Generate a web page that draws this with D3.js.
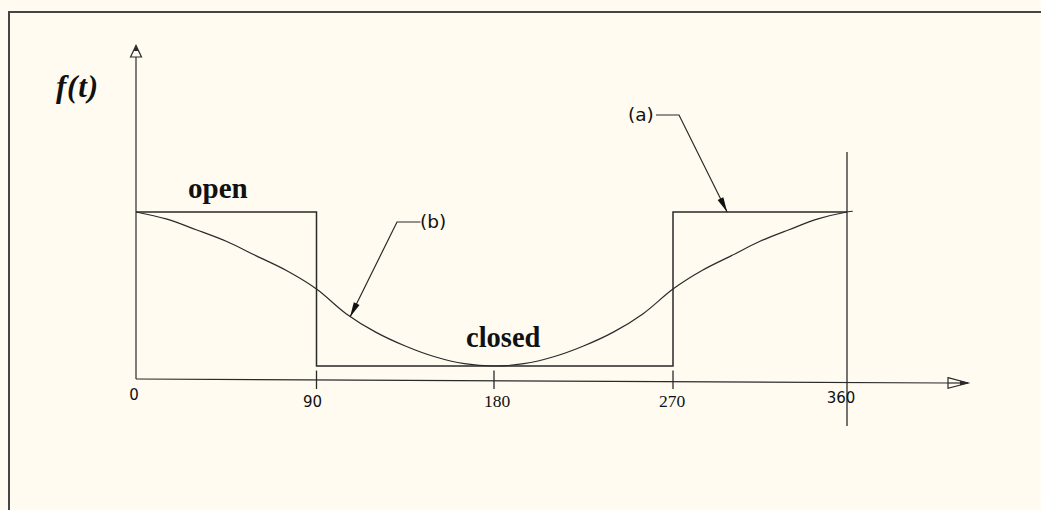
<!DOCTYPE html>
<html>
<head>
<meta charset="utf-8">
<script src="https://cdn.jsdelivr.net/npm/d3@7"></script>
<style>
  html, body { margin: 0; padding: 0; background: #fffbf0; }
  svg { display: block; }
</style>
</head>
<body>
<svg id="chart" width="1041" height="510"></svg>
<script>
// Phase angle in degrees and the two valve-opening functions f(t)
const tickAngles = [0, 90, 180, 270, 360];
const tickLabels = ["0", "90", "180", "270", "360"];

// (a) ideal on/off switching: open (1) for 0-90 and 270-360, closed (0) between
const squareAngles = [0, 90, 90, 270, 270, 360];
const squareValues = [1, 1, 0, 0, 1, 1];

// (b) smooth opening profile
const smoothAngles = [0, 15, 30, 45, 60, 75, 90, 105, 120, 135, 150, 165, 180,
                      195, 210, 225, 240, 255, 270, 285, 300, 315, 330, 345, 360, 363];
const smoothValues = [1.0, 0.955, 0.885, 0.81, 0.715, 0.62, 0.5, 0.34, 0.22, 0.13, 0.06, 0.015, 0.0,
                      0.015, 0.06, 0.13, 0.22, 0.34, 0.5, 0.62, 0.715, 0.81, 0.885, 0.955, 1.0, 1.005];

// Callout labels: which curve point each one points at
const calloutNames = ["(a)", "(b)"];
const calloutAngles = [298, 107];
const calloutValues = [1.0, 0.318];

const svg = d3.select("#chart");
const ink = "#2a2a2a";

// Scales
const x = d3.scaleLinear().domain(tickAngles).range([136, 316.5, 494, 673, 847]);
const y = d3.scaleLinear().domain([0, 1]).range([366, 212]);

// Outer frame (top and left edges)
svg.append("path")
  .attr("d", "M9,510 L9,12 L1041,12")
  .attr("fill", "none").attr("stroke", "#454545").attr("stroke-width", 2);

// Axes
const axisY0 = 379, axisY1 = 383;
const xEnd = 948;
svg.append("line")
  .attr("x1", x(0)).attr("y1", axisY0).attr("x2", xEnd).attr("y2", axisY1)
  .attr("stroke", ink).attr("stroke-width", 1.2);
svg.append("line")
  .attr("x1", x(0)).attr("y1", axisY0).attr("x2", x(0)).attr("y2", 57)
  .attr("stroke", ink).attr("stroke-width", 1.2);

// Arrow heads: open triangle with a solid point
svg.append("path")
  .attr("d", `M${x(0) - 5.5},57 L${x(0)},45.5 L${x(0) + 5.5},57 Z`)
  .attr("fill", "#fffbf0").attr("stroke", ink).attr("stroke-width", 1.2);
svg.append("path")
  .attr("d", `M${x(0) - 2.4},51 L${x(0)},45.5 L${x(0) + 2.4},51 Z`)
  .attr("fill", ink);
svg.append("path")
  .attr("d", `M${xEnd},${axisY1 - 5.3} L${xEnd + 20},${axisY1} L${xEnd},${axisY1 + 5.3} Z`)
  .attr("fill", "#fffbf0").attr("stroke", ink).attr("stroke-width", 1.2);
svg.append("line")
  .attr("x1", xEnd).attr("y1", axisY1).attr("x2", xEnd + 20).attr("y2", axisY1)
  .attr("stroke", ink).attr("stroke-width", 1.2);
svg.append("path")
  .attr("d", `M${xEnd + 12},${axisY1 - 2.2} L${xEnd + 21},${axisY1} L${xEnd + 12},${axisY1 + 2.2} Z`)
  .attr("fill", ink);

// Tick marks crossing the axis; the last one is a full-height reference line
tickAngles.slice(1).forEach(a => {
  const full = a === 360;
  svg.append("line")
    .attr("x1", x(a)).attr("x2", x(a))
    .attr("y1", full ? 152 : 370.5).attr("y2", full ? 426 : 389)
    .attr("stroke", ink).attr("stroke-width", 1.3);
});

// Tick labels (mixed lettering as drawn)
const tickStyle = {
  "0":   { font: "DejaVu Sans, Verdana, sans-serif", size: 15, dy: 400, dx: -2 },
  "90":  { font: "DejaVu Sans, Verdana, sans-serif", size: 15, dy: 407, dx: -4 },
  "180": { font: "Liberation Serif, Times New Roman, serif", size: 17.5, dy: 407, dx: 3 },
  "270": { font: "Liberation Serif, Times New Roman, serif", size: 17.5, dy: 407, dx: -1 },
  "360": { font: "DejaVu Sans, Verdana, sans-serif", size: 15, dy: 402.5, dx: -6 }
};
tickAngles.forEach((a, i) => {
  const s = tickStyle[tickLabels[i]];
  svg.append("text")
    .attr("x", x(a) + s.dx).attr("y", s.dy)
    .attr("text-anchor", "middle")
    .attr("font-family", s.font).attr("font-size", s.size)
    .attr("fill", "#111")
    .text(tickLabels[i]);
});

// Curve (a): square wave
const lineGen = d3.line().x(d => x(d[0])).y(d => y(d[1]));
svg.append("path")
  .datum(squareAngles.map((a, i) => [a, squareValues[i]]))
  .attr("d", lineGen)
  .attr("fill", "none").attr("stroke", ink).attr("stroke-width", 1.5);

// Curve (b): smooth profile
svg.append("path")
  .datum(smoothAngles.map((a, i) => [a, smoothValues[i]]))
  .attr("d", lineGen.curve(d3.curveCatmullRom))
  .attr("fill", "none").attr("stroke", ink).attr("stroke-width", 1.2);

// Labels
svg.append("text")
  .attr("x", 56).attr("y", 97)
  .attr("font-family", "Liberation Serif, Times New Roman, serif")
  .attr("font-weight", "bold").attr("font-style", "italic")
  .attr("font-size", 31).attr("letter-spacing", 0.8).attr("fill", "#111")
  .text("f(t)");
svg.append("text")
  .attr("x", 188).attr("y", 198)
  .attr("font-family", "Liberation Serif, Times New Roman, serif")
  .attr("font-weight", "bold").attr("font-size", 29).attr("fill", "#111")
  .text("open");
svg.append("text")
  .attr("x", 466).attr("y", 347)
  .attr("font-family", "Liberation Serif, Times New Roman, serif")
  .attr("font-weight", "bold").attr("font-size", 28.5).attr("fill", "#111")
  .text("closed");

// Callouts: label, short horizontal leader, slanted arrow to the curve
const calloutGeom = [
  { textX: 628, textY: 121, elbowX: 679, elbowY: 115, barX: 656 },
  { textX: 420, textY: 228, elbowX: 397, elbowY: 222, barX: 420.5 }
];
calloutNames.forEach((name, i) => {
  const g = calloutGeom[i];
  const tx = x(calloutAngles[i]), ty = y(calloutValues[i]);
  svg.append("text")
    .attr("x", g.textX).attr("y", g.textY)
    .attr("font-family", "DejaVu Sans, Verdana, sans-serif")
    .attr("font-size", 18.5).attr("fill", "#111")
    .text(name);
  svg.append("path")
    .attr("d", `M${g.barX},${g.elbowY} L${g.elbowX},${g.elbowY} L${tx},${ty}`)
    .attr("fill", "none").attr("stroke", ink).attr("stroke-width", 1.2);
  // filled arrow head along the leader direction
  const dx = tx - g.elbowX, dy = ty - g.elbowY;
  const len = Math.hypot(dx, dy), ux = dx / len, uy = dy / len;
  const hl = 15, hw = 3.2;
  const bx = tx - ux * hl, by = ty - uy * hl;
  svg.append("path")
    .attr("d", `M${tx},${ty} L${bx - uy * hw},${by + ux * hw} L${bx + uy * hw},${by - ux * hw} Z`)
    .attr("fill", "#111");
});
</script>
</body>
</html>
